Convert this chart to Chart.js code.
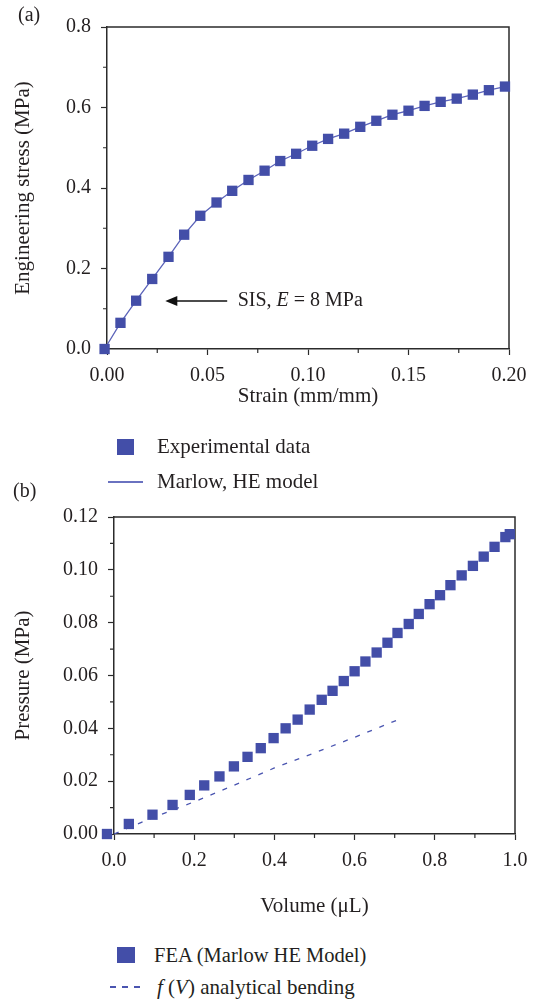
<!DOCTYPE html>
<html>
<head>
<meta charset="utf-8">
<script src="https://cdn.jsdelivr.net/npm/chart.js@4.4.1/dist/chart.umd.min.js"></script>
<style>
  body { margin: 0; background: #fff; }
  #wrap { position: relative; width: 543px; height: 1002px; font-family: 'Liberation Serif', serif; color: #231f20; }
  .box { position: absolute; left: 0; width: 543px; }
  .txt { position: absolute; font-size: 21px; line-height: 24px; white-space: nowrap; }
  .sq { position: absolute; background: #434ea8; }
</style>
</head>
<body>
<div id="wrap">
  <div class="box" style="top:0;height:420px"><canvas id="chartA"></canvas></div>
  <div class="box" style="top:495px;height:425px"><canvas id="chartB"></canvas></div>

  <div class="txt" style="left:18px;top:2px;font-size:20px">(a)</div>
  <div class="txt" style="left:13px;top:478px;font-size:20px">(b)</div>

  <div class="sq" style="left:117px;top:439px;width:17px;height:16px"></div>
  <div class="txt" style="left:157px;top:434px">Experimental data</div>
  <div style="position:absolute;left:108px;top:481px;width:35px;height:1.5px;background:#6a72c0"></div>
  <div class="txt" style="left:157px;top:469px">Marlow, HE model</div>

  <div class="sq" style="left:117px;top:947px;width:18px;height:16px"></div>
  <div class="txt" style="left:154px;top:943px;font-size:20.5px">FEA (Marlow HE Model)</div>
  <div style="position:absolute;left:110px;top:986px;width:33px;height:1.5px;background:repeating-linear-gradient(to right,#4a55b0 0 6px,transparent 6px 12px)"></div>
  <div class="txt" style="left:157px;top:975px"><i>f</i> (<i>V</i>) analytical bending</div>
</div>
<script>
// (a) tensile test, SIS
const strainData = [-0.0012, 0.0067, 0.0145, 0.0225, 0.0306, 0.0384, 0.0464, 0.0545, 0.0623, 0.0704,
  0.0784, 0.0862, 0.0941, 0.1021, 0.1100, 0.1180, 0.1260, 0.1340, 0.1420, 0.1500,
  0.1580, 0.1660, 0.1740, 0.1820, 0.1900, 0.1980];
const stressData = [0.000, 0.065, 0.120, 0.174, 0.229, 0.284, 0.331, 0.364, 0.393, 0.420,
  0.443, 0.467, 0.485, 0.505, 0.522, 0.535, 0.552, 0.567, 0.582, 0.592,
  0.604, 0.614, 0.622, 0.632, 0.643, 0.652];

// (b) pressure vs volume
const volumeData = [-0.0175, 0.037, 0.096, 0.146, 0.189, 0.225, 0.263, 0.299, 0.333, 0.366,
  0.398, 0.428, 0.458, 0.488, 0.518, 0.545, 0.573, 0.600, 0.627, 0.655,
  0.682, 0.707, 0.735, 0.760, 0.787, 0.813, 0.839, 0.867, 0.895, 0.922,
  0.949, 0.976, 0.987];
const pressureData = [0.0000, 0.0038, 0.0073, 0.0110, 0.0148, 0.0184, 0.0218, 0.0256, 0.0292, 0.0325,
  0.0363, 0.0400, 0.0433, 0.0471, 0.0508, 0.0542, 0.0579, 0.0616, 0.0653, 0.0687,
  0.0724, 0.0761, 0.0795, 0.0833, 0.0870, 0.0904, 0.0942, 0.0979, 0.1015, 0.1050,
  0.1087, 0.1124, 0.1135];
const analyticV = [0, 0.1, 0.2, 0.3, 0.4, 0.5, 0.6, 0.706];
const analyticP = [0, 0.0064, 0.0122, 0.0185, 0.0250, 0.0307, 0.0366, 0.0431];

const markerColor = '#434ea8';
const axisColor = '#2b2b2b';

Chart.defaults.font.family = "'Liberation Serif', serif";
Chart.defaults.font.size = 20;
Chart.defaults.color = '#231f20';

const pts = (xs, ys) => xs.map((x, i) => ({ x: x, y: ys[i] }));

// top/right frame and minor ticks
const framePlugin = {
  id: 'frame',
  beforeDatasetsDraw(chart, args, opts) {
    const { ctx, chartArea: a, scales: { x, y } } = chart;
    ctx.save();
    ctx.strokeStyle = axisColor;
    ctx.lineWidth = 1.5;
    ctx.beginPath();
    ctx.moveTo(a.left, a.top);
    ctx.lineTo(a.right, a.top);
    ctx.lineTo(a.right, a.bottom);
    ctx.stroke();
    ctx.lineWidth = 1.2;
    ctx.beginPath();
    (opts.xMinor || []).forEach(v => {
      const px = x.getPixelForValue(v);
      ctx.moveTo(px, a.bottom);
      ctx.lineTo(px, a.bottom + 4);
    });
    (opts.yMinor || []).forEach(v => {
      const py = y.getPixelForValue(v);
      ctx.moveTo(a.left, py);
      ctx.lineTo(a.left - 4, py);
    });
    ctx.stroke();
    ctx.restore();
  },
  afterDraw(chart, args, opts) {
    if (!opts.arrow) return;
    const { ctx, scales: { x, y } } = chart;
    const ar = opts.arrow;
    const yy = y.getPixelForValue(ar.y);
    const x0 = x.getPixelForValue(ar.from);
    const x1 = x.getPixelForValue(ar.to);
    ctx.save();
    ctx.strokeStyle = '#111';
    ctx.fillStyle = '#111';
    ctx.lineWidth = 1.5;
    ctx.beginPath();
    ctx.moveTo(x0, yy);
    ctx.lineTo(x1 + 10, yy);
    ctx.stroke();
    ctx.beginPath();
    ctx.moveTo(x1, yy);
    ctx.lineTo(x1 + 12, yy - 5);
    ctx.lineTo(x1 + 12, yy + 5);
    ctx.closePath();
    ctx.fill();
    // label
    ctx.fillStyle = '#231f20';
    ctx.textBaseline = 'middle';
    let tx = x.getPixelForValue(ar.textX);
    const parts = [['SIS, ', 'normal'], ['E', 'italic'], [' = 8 MPa', 'normal']];
    parts.forEach(([t, st]) => {
      ctx.font = st + " 20px 'Liberation Serif', serif";
      ctx.fillText(t, tx, yy);
      tx += ctx.measureText(t).width;
    });
    ctx.restore();
  }
};

function axisOpts(o) {
  return {
    type: 'linear',
    min: o.min,
    max: o.max,
    border: { display: true, color: axisColor, width: 1.5 },
    grid: { display: true, drawOnChartArea: false, drawTicks: true, tickLength: 6, color: axisColor, tickWidth: 1.2 },
    ticks: { stepSize: o.step, padding: o.pad, color: '#231f20', font: { size: 20 }, callback: v => Number(v).toFixed(o.dec) },
    title: { display: true, text: o.title, color: '#231f20', font: { size: 21 }, padding: o.titlePad },
    afterFit: o.fit
  };
}

new Chart(document.getElementById('chartA'), {
  type: 'scatter',
  data: {
    datasets: [
      {
        label: 'Experimental data',
        data: pts(strainData, stressData),
        pointStyle: 'rect',
        pointRadius: 7.3,
        backgroundColor: markerColor,
        borderColor: markerColor,
        borderWidth: 0,
        showLine: false,
        clip: false
      },
      {
        label: 'Marlow, HE model',
        data: pts(strainData, stressData),
        showLine: true,
        pointRadius: 0,
        borderColor: '#5b63b9',
        borderWidth: 1.3,
        clip: false
      }
    ]
  },
  options: {
    responsive: true,
    maintainAspectRatio: false,
    animation: false,
    layout: { padding: { top: 27, right: 34, left: 0, bottom: 0 } },
    plugins: {
      legend: { display: false },
      tooltip: { enabled: false },
      frame: {
        xMinor: [0.025, 0.075, 0.125, 0.175],
        yMinor: [0.1, 0.3, 0.5, 0.7],
        arrow: { y: 0.119, from: 0.0598, to: 0.029, textX: 0.065 }
      }
    },
    scales: {
      x: axisOpts({ min: 0, max: 0.2, step: 0.05, dec: 2, pad: 9, title: 'Strain (mm/mm)',
        titlePad: { top: 0, bottom: 11 }, fit: s => { s.height = 71; } }),
      y: axisOpts({ min: 0, max: 0.8, step: 0.2, dec: 1, pad: 10, title: 'Engineering stress (MPa)',
        titlePad: { top: 11, bottom: 0 }, fit: s => { s.width = 107; } })
    }
  },
  plugins: [framePlugin]
});

new Chart(document.getElementById('chartB'), {
  type: 'scatter',
  data: {
    datasets: [
      {
        label: 'FEA (Marlow HE Model)',
        data: pts(volumeData, pressureData),
        pointStyle: 'rect',
        pointRadius: 7.3,
        backgroundColor: markerColor,
        borderColor: markerColor,
        borderWidth: 0,
        showLine: false,
        clip: false
      },
      {
        label: 'f (V) analytical bending',
        data: pts(analyticV, analyticP),
        showLine: true,
        pointRadius: 0,
        borderColor: '#4a55b0',
        borderWidth: 1.3,
        borderDash: [5, 8],
        clip: false
      }
    ]
  },
  options: {
    responsive: true,
    maintainAspectRatio: false,
    animation: false,
    layout: { padding: { top: 16, right: 28, left: 0, bottom: 0 } },
    plugins: {
      legend: { display: false },
      tooltip: { enabled: false },
      frame: {
        xMinor: [0.1, 0.3, 0.5, 0.7, 0.9],
        yMinor: [0.01, 0.03, 0.05, 0.07, 0.09, 0.11]
      }
    },
    scales: {
      x: axisOpts({ min: 0, max: 1, step: 0.2, dec: 1, pad: 9, title: 'Volume (μL)',
        titlePad: { top: 0, bottom: 1 }, fit: s => { s.height = 86; } }),
      y: axisOpts({ min: 0, max: 0.12, step: 0.02, dec: 2, pad: 10, title: 'Pressure (MPa)',
        titlePad: { top: 11, bottom: 0 }, fit: s => { s.width = 114; } })
    }
  },
  plugins: [framePlugin]
});
</script>
</body>
</html>
